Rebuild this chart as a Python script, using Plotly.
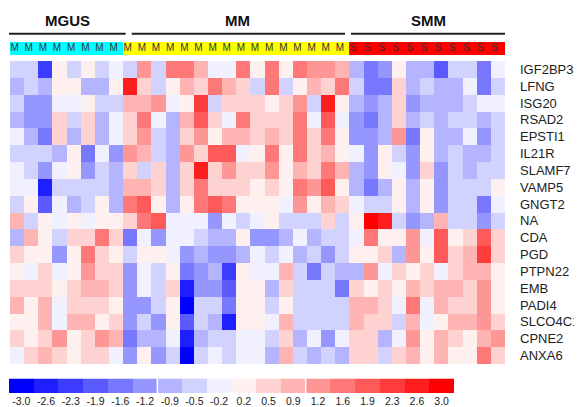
import plotly.graph_objects as go

genes = ["IGF2BP3", "LFNG", "ISG20", "RSAD2", "EPSTI1", "IL21R", "SLAMF7", "VAMP5",
         "GNGT2", "NA", "CDA", "PGD", "PTPN22", "EMB", "PADI4", "SLCO4C1", "CPNE2", "ANXA6"]

groups = ["MGUS", "MM", "SMM"]
group_sizes = [8, 16, 11]
group_letters = ["M", "M", "S"]
group_colors = ["#00FFFF", "#FFFF00", "#FF0000"]

values = [
    [-0.5, -0.5, -2.3, 0.2, -0.6, 0.2, -0.4, -0.2,
     -0.6, 1.2, -0.4, 1.6, 1.6, 0.9, -0.3, -0.1, 1.6, 0.1, 1.5, 0.3, 1.5, 1.3, 1.2, 0.9,
     -0.9, -1.5, -1.2, 0.0, -0.8, -1.0, -2.0, -0.7, -0.7, -1.6, -0.3],
    [-1.0, -0.5, -0.8, 0.2, 0.3, -1.0, -1.0, 0.05,
     2.6, 0.6, -0.5, 0.1, 0.9, 0.6, 1.6, 1.0, 0.6, -0.5, 1.7, -0.5, 0.05, 0.9, 0.6, 1.5,
     -0.5, -1.6, -1.6, 0.6, -0.8, -0.7, -0.9, -0.8, -0.3, -1.6, -0.5],
    [-0.6, -1.1, -1.3, -0.1, -0.3, 0.1, -0.4, -0.6,
     1.0, 1.0, 1.3, -0.3, 0.3, 2.3, -0.4, 0.5, 0.6, 0.7, 0.1, 0.5, 1.4, -0.6, 2.5, 0.1,
     -0.8, -1.3, -1.0, 0.5, -1.3, -1.0, -0.8, -1.0, -0.6, -0.15, -0.15],
    [-0.9, -1.1, -1.1, 0.5, -0.7, 0.5, -0.8, -0.3,
     0.4, 1.5, -0.2, -0.8, 0.9, 2.1, 0.4, -0.1, 1.5, 0.6, 0.6, 0.6, 1.6, -0.3, 2.1, -0.1,
     -1.1, -1.5, -1.0, 0.5, -0.9, -0.6, -0.9, -0.7, -0.5, -0.9, -0.4],
    [-0.05, -0.8, -1.6, 0.5, -0.9, 0.5, -1.0, -0.2,
     0.5, 1.4, -0.4, -0.8, 0.4, 1.3, 0.2, 0.8, 0.8, 0.6, 1.0, 0.6, 1.6, 0.4, 1.7, 0.2,
     -1.3, -1.3, -0.9, 1.1, -1.5, 0.05, -0.8, -0.8, -0.15, -1.4, -0.4],
    [-0.6, -0.5, -0.6, -0.8, 0.05, -1.5, -0.2, -1.2,
     1.1, 0.9, -0.5, -0.8, 1.3, 0.5, 2.0, 2.0, -0.3, 0.1, 1.5, 0.0, 1.5, 0.6, 0.8, 0.15,
     -0.2, -1.2, 0.0, -0.6, -1.3, 0.15, -1.0, -0.6, -0.9, -0.9, -0.4],
    [-0.3, -0.4, -1.1, -0.15, 0.0, -1.1, -0.7, -1.0,
     0.5, -0.4, 0.5, -0.9, 0.5, 2.6, 0.5, 1.4, 0.5, 0.5, 1.3, 0.3, 1.0, 0.6, 1.6, 0.9,
     -1.0, -1.3, 0.2, -0.3, -1.2, 0.5, -1.3, -0.7, -1.0, -0.6, -0.5],
    [-0.2, -0.3, -2.6, -0.4, -0.5, -0.5, -0.4, -1.0,
     1.0, 0.9, 0.5, -0.9, 0.4, 1.7, 0.7, 0.6, 0.4, 0.3, 0.4, 0.0, 1.6, 1.3, 1.8, 0.35,
     -0.9, -1.5, -0.8, 0.05, -0.8, 0.3, -1.2, -0.6, -0.5, -0.5, 0.2],
    [-0.7, 0.1, -1.8, -0.3, -0.9, -0.6, 0.0, -1.0,
     1.6, 1.8, 0.0, -0.9, 0.0, 1.7, 1.9, 1.5, 0.2, 0.05, 0.3, -0.1, 1.4, 0.3, 1.0, 0.7,
     -0.2, -0.7, -0.7, 0.2, -0.8, 0.05, -1.2, -0.6, -0.7, -1.6, -0.3],
    [0.9, -0.5, 0.3, -0.3, 0.0, -0.3, 0.2, 0.05,
     0.5, 1.5, 1.9, -0.05, -0.05, -0.3, -1.3, -0.3, -0.7, -0.3, 0.1, -0.4, -0.6, -0.6, 0.6, -0.4,
     0.05, 3.0, 2.5, -0.5, -1.2, -0.9, 0.8, -0.6, -0.7, -1.3, -0.5],
    [-1.0, 0.8, 0.3, -0.5, 0.5, 0.5, 1.7, 0.4,
     -1.6, -0.3, -1.2, -0.1, -0.3, -0.6, -0.9, -0.9, 0.3, -1.1, -1.4, -0.9, -0.2, -0.8, -0.5, -0.5,
     -0.3, 1.7, 0.1, 0.1, 1.3, -0.2, 1.9, 0.2, 0.5, 1.9, 0.5],
    [0.6, 0.2, 0.1, -1.3, 0.05, 1.5, 0.7, 0.2,
     -0.6, 0.05, 0.2, -0.3, -1.3, -0.8, -1.2, -1.1, -0.8, -0.1, -0.7, -0.3, -0.8, -0.5, -1.3, -0.6,
     0.1, 0.3, 0.7, -0.8, 1.3, 0.05, 1.8, 0.6, 0.9, 2.4, 0.6],
    [0.2, -0.15, 0.6, -0.2, 0.2, 1.1, 0.7, 0.7,
     -1.3, -0.3, -0.6, 0.2, -1.6, -1.4, -0.8, -2.4, 0.1, -0.2, -0.2, 1.0, -0.6, -1.5, -0.6, -0.8,
     -0.9, 1.2, -0.1, 0.6, 0.2, 0.7, -0.1, 0.6, 1.0, 1.0, 0.1],
    [0.6, 0.6, 0.4, 0.05, 0.6, 0.8, 0.8, 0.6,
     -1.2, -0.1, -0.4, 0.5, -2.6, -1.2, -1.2, -2.0, 0.0, 0.2, -0.9, 0.4, -0.6, -0.6, -0.5, -1.5,
     0.7, 0.3, 0.4, 0.0, 0.9, 0.4, 0.8, 1.0, 0.7, 1.1, 0.2],
    [0.9, 0.3, 1.0, -0.2, 0.7, 0.4, 0.5, 0.2,
     -1.1, -1.1, -0.6, 0.1, -3.0, -0.6, -0.6, -1.6, 0.1, 0.05, -0.6, 0.3, -0.7, -0.4, -0.5, -0.6,
     0.8, 0.9, 0.5, -0.2, 1.5, -0.3, 1.0, 0.5, 0.5, 1.4, 0.2],
    [0.2, 0.1, 0.8, -0.2, 0.9, 1.0, 0.3, 0.7,
     -1.3, -0.6, -1.1, 0.05, -1.9, -0.6, -0.9, -2.6, 0.15, 0.0, -0.3, 0.8, -0.5, -0.4, -0.5, -0.6,
     0.9, 0.6, 0.6, -0.6, 0.9, -0.3, 0.2, 0.9, 0.8, 1.4, 0.4],
    [0.4, 0.2, 0.4, 1.2, 0.1, 0.4, 1.1, 1.0,
     -1.6, -0.8, -0.8, -0.1, -2.6, -1.0, -0.4, -0.5, -0.1, -0.05, -0.6, 0.5, -0.9, -0.3, -1.3, -0.3,
     0.6, 0.7, -1.0, -0.2, 1.2, 0.3, 0.9, 0.4, 0.2, 1.0, 1.2],
    [-0.3, 0.6, 0.8, 0.5, 0.3, 0.5, 0.6, -0.15,
     -1.1, 0.1, -1.2, -0.5, -3.0, -0.7, -0.2, -0.5, -0.2, -0.15, -0.9, 0.8, -0.7, -0.8, -0.5, -0.8,
     0.4, 0.5, -0.4, 0.6, 0.8, 0.2, 0.8, 0.2, 0.3, 1.7, 0.4],
]

legend_ticks = [-3.0, -2.6, -2.3, -1.9, -1.6, -1.2, -0.9, -0.5, -0.2,
                0.2, 0.5, 0.9, 1.2, 1.6, 1.9, 2.3, 2.6, 3.0]

# ---- colour scale: 18 discrete blue-white-red levels ----
W, H = 582, 407
OFF = 8  # default page body margin shifts the figure by 8 px
nlev = len(legend_ticks)
step = 6.0 / (nlev - 1)
zmin, zmax = -3.0 - step / 2, 3.0 + step / 2
centers = [-3.0 + i * step for i in range(nlev)]


def lev_color(c):
    k = int(round(255 * (1 - min(abs(c), 3.0) / 3.0)))
    return f"rgb({k},{k},255)" if c < 0 else f"rgb(255,{k},{k})"


cscale = []
for i, c in enumerate(centers):
    col = lev_color(c)
    cscale.append([i / nlev, col])
    cscale.append([(i + 1) / nlev, col])

ncol = sum(group_sizes)
cols = list(range(ncol))
col_group = []
col_letter = []
for gi, n in enumerate(group_sizes):
    col_group += [gi] * n
    col_letter += [group_letters[gi]] * n


def px_x(p):
    return (p - OFF) / W


def px_y(p):
    return 1 - (p - OFF) / H


fig = go.Figure()

# main heatmap
fig.add_trace(go.Heatmap(
    z=values, x=cols, y=genes, colorscale=cscale, zmin=zmin, zmax=zmax,
    showscale=False, xaxis="x", yaxis="y", hoverinfo="skip"))

# header strip
gscale = []
for gi, c in enumerate(group_colors):
    gscale.append([gi / 3, c])
    gscale.append([(gi + 1) / 3, c])
fig.add_trace(go.Heatmap(
    z=[col_group], x=cols, y=[0], colorscale=gscale, zmin=-0.5, zmax=2.5,
    showscale=False, xaxis="x3", yaxis="y3", hoverinfo="skip"))
fig.add_trace(go.Scatter(
    x=[c - 0.47 for c in cols], y=[0] * ncol, text=col_letter, mode="text",
    textposition="middle right", textfont=dict(family="Liberation Sans", size=10, color="#333"),
    xaxis="x3", yaxis="y3", hoverinfo="skip", showlegend=False))

# legend bar
fig.add_trace(go.Heatmap(
    z=[centers], x=list(range(nlev)), y=[0], colorscale=cscale, zmin=zmin, zmax=zmax,
    showscale=False, xaxis="x2", yaxis="y2", hoverinfo="skip"))

hm_x = [px_x(10), px_x(505)]
fig.update_layout(
    width=W, height=H, margin=dict(l=0, r=0, t=0, b=0, autoexpand=False),
    paper_bgcolor="white", plot_bgcolor="white", showlegend=False,
    xaxis=dict(domain=hm_x, range=[-0.5, ncol - 0.5], showticklabels=False, showgrid=False,
               zeroline=False, ticks="", automargin=False),
    yaxis=dict(domain=[px_y(364), px_y(61)], autorange="reversed", side="right",
               showgrid=False, zeroline=False, ticks="", ticklabelstandoff=14, automargin=False,
               tickfont=dict(family="Liberation Sans", size=13, color="#222")),
    xaxis3=dict(domain=hm_x, range=[-0.5, ncol - 0.5], showticklabels=False, showgrid=False,
                zeroline=False, anchor="y3", automargin=False),
    yaxis3=dict(domain=[px_y(55), px_y(42)], range=[-0.5, 0.5], showticklabels=False,
                showgrid=False, zeroline=False, anchor="x3", automargin=False),
    xaxis2=dict(domain=[px_x(9), px_x(454)], range=[-0.5, nlev - 0.5], anchor="y2",
                tickvals=list(range(nlev)), ticktext=[f"{t:.1f}" for t in legend_ticks],
                ticks="", showgrid=False, zeroline=False, ticklabelstandoff=0, automargin=False,
                tickfont=dict(family="Liberation Sans", size=10.5, color="#222")),
    yaxis2=dict(domain=[px_y(393), px_y(378.5)], range=[-0.5, 0.5], showticklabels=False,
                showgrid=False, zeroline=False, anchor="x2", automargin=False),
)

# separators in legend bar
for xs in [5.5, 11.5]:
    fig.add_shape(type="line", xref="x2", yref="y2", x0=xs, x1=xs, y0=-0.5, y1=0.5,
                  line=dict(color="white", width=1.5))

# group titles and underlines
title_x = [67, 237.5, 428]
line_span = [(9, 125.7), (131.7, 345), (351, 505)]
for g, tx, (a, b) in zip(groups, title_x, line_span):
    fig.add_annotation(x=px_x(tx), y=px_y(21), xref="paper", yref="paper", text=f"<b>{g}</b>",
                       showarrow=False, font=dict(family="Liberation Sans", size=15, color="#111"),
                       xanchor="center", yanchor="middle")
    fig.add_shape(type="line", xref="paper", yref="paper", x0=px_x(a), x1=px_x(b),
                  y0=px_y(33.7), y1=px_y(33.7), line=dict(color="#222", width=2))

fig.write_html("out.html")
